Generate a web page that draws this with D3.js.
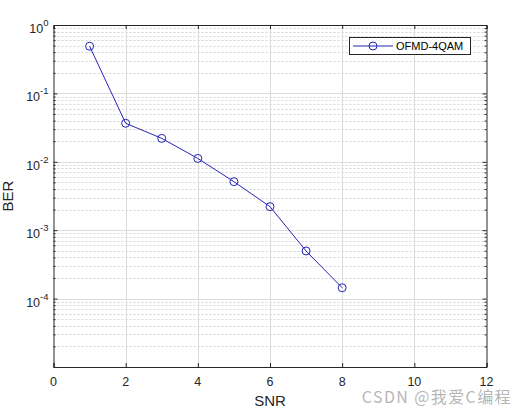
<!DOCTYPE html>
<html><head><meta charset="utf-8">
<script src="https://cdn.jsdelivr.net/npm/d3@7"></script>
<style>body{margin:0;background:#fff;} svg{display:block;}</style>
</head><body>
<svg id="c" width="524" height="410"></svg>
<script>
const snr = [1, 2, 3, 4, 5, 6, 7, 8];
const ber = [0.49, 0.0366, 0.022, 0.0112, 0.00512, 0.00221, 0.000497, 0.000144];
const xTicks = [0, 2, 4, 6, 8, 10, 12];
const yTickExps = [0, -1, -2, -3, -4];
const seriesName = "OFMD-4QAM";
const xLabel = "SNR", yLabel = "BER";
const watermark = "CSDN @我爱C编程";

const svg = d3.select("#c");
const L = 53.5, R = 486.5, T = 25, B = 367;
const x = d3.scaleLinear().domain([0, 12]).range([L, R]);
const y = d3.scaleLog().domain([1e-5, 1]).range([B, T]);
const font = "Arial, 'Liberation Sans', sans-serif";
const lineColor = "#2525b5";

svg.append("rect").attr("x", L).attr("y", T).attr("width", R - L).attr("height", B - T).attr("fill", "#fff");

// minor horizontal grid
const minors = [];
for (let e = -5; e < 0; e++) for (let m = 2; m <= 9; m++) minors.push(m * Math.pow(10, e));
svg.append("g").selectAll("line").data(minors).join("line")
  .attr("x1", L).attr("x2", R).attr("y1", d => Math.round(y(d)) + 0.5).attr("y2", d => Math.round(y(d)) + 0.5)
  .attr("stroke", "#d4d4d4").attr("stroke-width", 1).attr("stroke-dasharray", "2,2");
// major grid
const majors = [1e-4, 1e-3, 1e-2, 1e-1];
svg.append("g").selectAll("line").data(majors).join("line")
  .attr("x1", L).attr("x2", R).attr("y1", d => Math.round(y(d)) + 0.5).attr("y2", d => Math.round(y(d)) + 0.5)
  .attr("stroke", "#dcdcdc").attr("stroke-width", 1);
svg.append("g").selectAll("line").data(xTicks.slice(1, -1)).join("line")
  .attr("x1", d => Math.round(x(d)) + 0.5).attr("x2", d => Math.round(x(d)) + 0.5).attr("y1", T).attr("y2", B)
  .attr("stroke", "#dcdcdc").attr("stroke-width", 1);

// axes (ticks inward)
const axB = d3.axisBottom(x).tickValues(xTicks).tickSize(-4).tickFormat("");
const axT = d3.axisTop(x).tickValues(xTicks).tickSize(-4).tickFormat("");
const yMaj = yTickExps.map(e => Math.pow(10, e)).concat([1e-5]);
const axL = d3.axisLeft(y).tickValues(yMaj).tickSize(-4).tickFormat("");
const axR = d3.axisRight(y).tickValues(yMaj).tickSize(-4).tickFormat("");
const axLm = d3.axisLeft(y).tickValues(minors).tickSize(-2).tickFormat("");
const axRm = d3.axisRight(y).tickValues(minors).tickSize(-2).tickFormat("");
function style(g){ g.selectAll("path,line").attr("stroke", "#262626"); g.select(".domain").attr("stroke-width", 1); }
svg.append("g").attr("transform", `translate(0,${B})`).call(axB).call(style);
svg.append("g").attr("transform", `translate(0,${T})`).call(axT).call(style);
svg.append("g").attr("transform", `translate(${L},0)`).call(axL).call(style);
svg.append("g").attr("transform", `translate(${R},0)`).call(axR).call(style);
svg.append("g").attr("transform", `translate(${L},0)`).call(axLm).call(style).select(".domain").remove();
svg.append("g").attr("transform", `translate(${R},0)`).call(axRm).call(style).select(".domain").remove();

// x tick labels
svg.append("g").selectAll("text").data(xTicks).join("text")
  .attr("x", d => x(d)).attr("y", B + 19).attr("text-anchor", "middle")
  .attr("font-family", font).attr("font-size", 12.5).attr("fill", "#262626").text(d => d);

// y tick labels with superscripts
const yl = svg.append("g").selectAll("text").data(yTickExps).join("text")
  .attr("x", L - 5).attr("y", d => y(Math.pow(10, d)) + 8).attr("text-anchor", "end")
  .attr("font-family", font).attr("font-size", 12.5).attr("fill", "#262626");
yl.append("tspan").text("10");
yl.append("tspan").attr("dy", -7).attr("font-size", 9.5).text(d => d);

// axis labels
svg.append("text").attr("x", x(6)).attr("y", 406).attr("text-anchor", "middle")
  .attr("font-family", font).attr("font-size", 15).attr("fill", "#262626").text(xLabel);
svg.append("text").attr("transform", `translate(13,${(T + B) / 2}) rotate(-90)`).attr("text-anchor", "middle")
  .attr("font-family", font).attr("font-size", 15).attr("fill", "#262626").text(yLabel);

// data line
const pts = snr.map((s, i) => [s, ber[i]]);
svg.append("path").datum(pts)
  .attr("d", d3.line().x(d => x(d[0])).y(d => y(d[1])))
  .attr("fill", "none").attr("stroke", lineColor).attr("stroke-width", 1);
svg.append("g").selectAll("circle").data(pts).join("circle")
  .attr("cx", d => x(d[0])).attr("cy", d => y(d[1])).attr("r", 4)
  .attr("fill", "none").attr("stroke", lineColor).attr("stroke-width", 1);

// legend
const lg = svg.append("g");
lg.append("rect").attr("x", 349.5).attr("y", 37.5).attr("width", 121).attr("height", 17)
  .attr("fill", "#fff").attr("stroke", "#262626").attr("stroke-width", 1);
lg.append("line").attr("x1", 353).attr("x2", 393).attr("y1", 46).attr("y2", 46).attr("stroke", lineColor);
lg.append("circle").attr("cx", 373).attr("cy", 46).attr("r", 4).attr("fill", "none").attr("stroke", lineColor);
lg.append("text").attr("x", 396).attr("y", 50).attr("font-family", font).attr("font-size", 11)
  .attr("fill", "#000").text(seriesName);

// watermark
svg.append("text").attr("x", 512).attr("y", 403).attr("text-anchor", "end")
  .attr("font-family", "'Noto Sans CJK SC', 'Noto Sans', sans-serif").attr("font-size", 16)
  .attr("letter-spacing", 1.4)
  .attr("fill", "#a8a8a8").attr("fill-opacity", 0.85).text(watermark);
</script>
</body></html>
